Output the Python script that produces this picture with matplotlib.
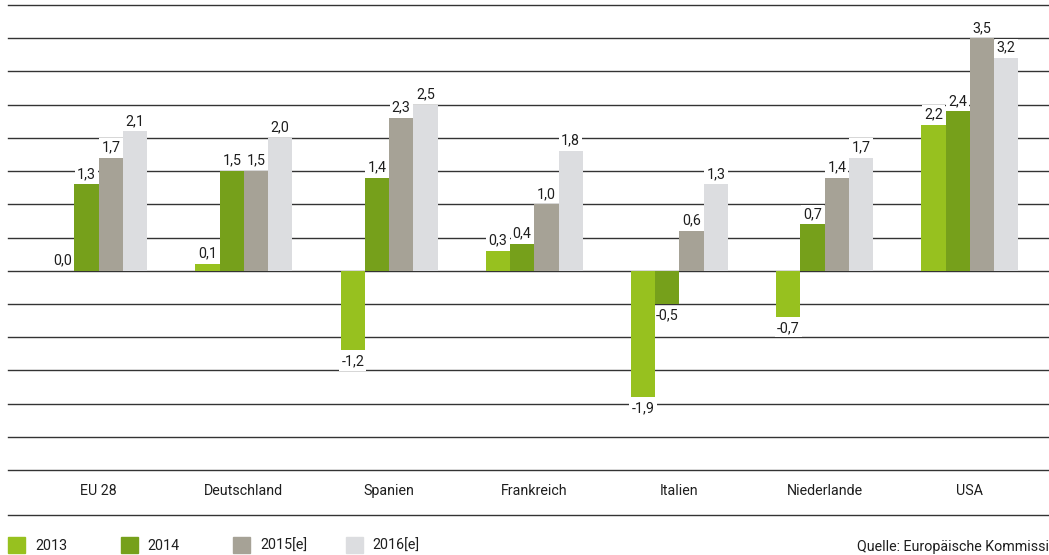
import matplotlib.pyplot as plt
from matplotlib.patches import Rectangle
from matplotlib.lines import Line2D
import numpy as np

plt.rcParams['font.family'] = ['Roboto', 'DejaVu Sans']

countries = ["EU 28", "Deutschland", "Spanien", "Frankreich", "Italien", "Niederlande", "USA"]
years = ["2013", "2014", "2015[e]", "2016[e]"]
growth_2013 = [0.0, 0.1, -1.2, 0.3, -1.9, -0.7, 2.2]
growth_2014 = [1.3, 1.5, 1.4, 0.4, -0.5, 0.7, 2.4]
growth_2015 = [1.7, 1.5, 2.3, 1.0, 0.6, 1.4, 3.5]
growth_2016 = [2.1, 2.0, 2.5, 1.8, 1.3, 1.7, 3.2]
colors = ["#97c11f", "#76a01b", "#a6a296", "#dcdde0"]
source = "Quelle: Europäische Kommission"

W, H = 1049, 555
fig = plt.figure(figsize=(W / 100, H / 100), dpi=100)
ax = fig.add_axes([8 / W, (H - 470) / H, 1 - 8 / W, (470 - 5) / H])

series = [growth_2013, growth_2014, growth_2015, growth_2016]
x = np.arange(len(countries))
bar_w = 0.167
text_col = "#1e1e1e"
fs = 10.3

# horizontal rules every 0.5
for y in np.arange(-3.0, 4.01, 0.5):
    ax.axhline(y, color="#333333", lw=1.0, zorder=0, clip_on=False)

for i, vals in enumerate(series):
    pos = x + (i - 1.5) * bar_w
    ax.bar(pos, vals, width=bar_w, color=colors[i], zorder=2)
    for px, v in zip(pos, vals):
        off = 7.5 if v >= 0 else -8
        ax.annotate(f"{v:.1f}".replace(".", ","), (px, v), xytext=(0, off),
                    textcoords="offset points", ha="center", va="center",
                    fontsize=fs, color=text_col, zorder=1,
                    bbox=dict(boxstyle="square,pad=0.15", fc="white", ec="none"))

ax.set_xlim(-0.625, 6.545)
ax.set_ylim(-3.0, 4.0)
ax.set_xticks(x)
ax.set_xticklabels(countries, fontsize=fs, color=text_col)
ax.tick_params(axis="x", length=0, pad=10)
ax.set_yticks([])
for s in ax.spines.values():
    s.set_visible(False)

# rule under the country names
fig.add_artist(Line2D([8 / W, 1], [(H - 515) / H] * 2, color="#333333", lw=1.0))

# legend row
for i, name in enumerate(years):
    x0 = 8 + 112.5 * i
    fig.add_artist(Rectangle((x0 / W, (H - 553) / H), 17 / W, 16 / H,
                             color=colors[i], transform=fig.transFigure))
    fig.text((x0 + 27) / W, (H - 546) / H, name, fontsize=fs, color=text_col, va="center")

fig.text(857 / W, (H - 547) / H, source, fontsize=fs, color=text_col, va="center")

fig.savefig("out.png", dpi=100)
